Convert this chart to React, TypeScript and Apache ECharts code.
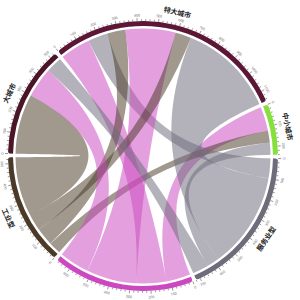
import React, { useEffect, useRef } from 'react';
import * as echarts from 'echarts';

const groups = ['特大城市', '中小城市', '服务业型', '综合型', '工业型', '大城市'];
const groupColors = ['#5c1736', '#86e03c', '#6e6b7a', '#cc48c0', '#4b3a27', '#4a1526'];
const shownLabels = ['特大城市', '中小城市', '服务业型', '工业型', '大城市'];

const linkSources = ['中小城市', '中小城市', '特大城市', '特大城市', '特大城市', '特大城市', '特大城市', '特大城市', '中小城市', '大城市', '大城市', '大城市'];
const linkTargets = ['综合型', '工业型', '综合型', '服务业型', '工业型', '综合型', '工业型', '服务业型', '服务业型', '工业型', '综合型', '服务业型'];
const linkValues = [120, 60, 150, 100, 90, 250, 80, 480, 60, 300, 150, 80];

const tickStep = 20;
const labelStep = 100;

const CX = 143, CY = 156, R0 = 130, R1 = 135, PAD = 1.6, START = -39;

export default function App() {
  const ref = useRef<HTMLDivElement>(null);
  useEffect(() => {
    const chart = echarts.init(ref.current!, null, { renderer: 'svg' });
    const nodeVal: number[] = groups.map((g) => {
      let s = 0;
      linkValues.forEach((v, i) => { if (linkSources[i] === g || linkTargets[i] === g) s += v; });
      return s;
    });
    const total = nodeVal.reduce((a, b) => a + b, 0);
    const unit = (360 - groups.length * PAD) / total;
    const starts: number[] = [];
    let acc = START;
    groups.forEach((g, i) => { starts.push(acc); acc += nodeVal[i] * unit + PAD; });

    const renderTicks = () => {
      const children: any[] = [];
      children.push({ type: 'ring', shape: { cx: CX, cy: CY, r: R0 + 0.2, r0: R0 - 2.5 }, style: { fill: '#fff' } });
      const pt = (deg: number, r: number) => {
        const a = (deg * Math.PI) / 180;
        return [CX + r * Math.sin(a), CY - r * Math.cos(a)];
      };
      groups.forEach((g, gi) => {
        for (let v = 0; v <= nodeVal[gi]; v += tickStep) {
          const deg = starts[gi] + v * unit;
          const major = v % labelStep === 0;
          const p1 = pt(deg, R1);
          const p2 = pt(deg, R1 + (major ? 3 : 1.8));
          children.push({ type: 'line', shape: { x1: p1[0], y1: p1[1], x2: p2[0], y2: p2[1] }, style: { stroke: '#333', lineWidth: 0.5 } });
          if (major) {
            const p = pt(deg, R1 + 6);
            const nd = ((deg % 360) + 360) % 360;
            const rot = nd > 90 && nd < 270 ? deg - 180 : deg;
            children.push({ type: 'text', x: p[0], y: p[1], rotation: (-rot * Math.PI) / 180, style: { text: String(v), fontSize: 3.5, fill: '#666', align: 'center', verticalAlign: 'middle', fontFamily: 'Noto Sans' } });
          }
        }
        if (shownLabels.indexOf(g) >= 0) {
          const mid = starts[gi] + (nodeVal[gi] * unit) / 2;
          const p = pt(mid, R1 + 13);
          const nd = ((mid % 360) + 360) % 360;
          const rot = nd > 90 && nd < 270 ? mid - 180 : mid;
          children.push({ type: 'text', x: p[0], y: p[1], rotation: (-rot * Math.PI) / 180, style: { text: g, fontSize: 7, fontWeight: 'bold', fill: '#222', align: 'center', verticalAlign: 'middle', fontFamily: 'Noto Sans CJK SC' } });
        }
      });
      return { type: 'group', children };
    };

    chart.setOption({
      animation: false,
      backgroundColor: '#fff',
      series: [
        {
          type: 'chord',
          center: [CX, CY],
          radius: [R0, R1],
          startAngle: 90 - START,
          clockwise: true,
          padAngle: PAD,
          label: { show: false },
          itemStyle: { borderWidth: 0 },
          lineStyle: { color: 'target', opacity: 0.52 },
          data: groups.map((g, i) => ({ name: g, itemStyle: { color: groupColors[i] } })),
          links: linkValues.map((v, i) => ({
            source: linkSources[i],
            target: linkTargets[i],
            value: v,
          })),
        },
        {
          type: 'custom',
          coordinateSystem: 'none',
          silent: true,
          data: [[0]],
          renderItem: renderTicks,
        },
      ],
    });
    return () => chart.dispose();
  }, []);
  return <div ref={ref} style={{ position: 'fixed', left: 0, top: 0, width: 300, height: 300 }} />;
}
